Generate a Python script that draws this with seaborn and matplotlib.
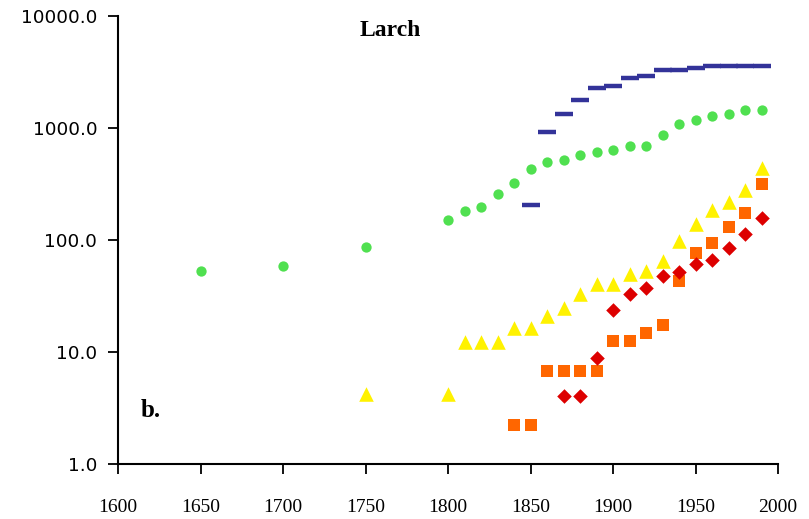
import numpy as np
import pandas as pd
import matplotlib
matplotlib.use("Agg")
import matplotlib.pyplot as plt
import seaborn as sns
from matplotlib.ticker import FixedLocator, FormatStrFormatter, NullLocator

# Data (log scale values)
years_dash = [1850, 1860, 1870, 1880, 1890, 1900, 1910, 1920, 1930, 1940, 1950, 1960, 1970, 1980, 1990]
vals_dash = [205, 921, 1334, 1778, 2276, 2371, 2795, 2914, 3295, 3295, 3435, 3580, 3580, 3580, 3580]

years_circ = [1650, 1700, 1750, 1800, 1810, 1820, 1830, 1840, 1850, 1860, 1870, 1880, 1890,
              1900, 1910, 1920, 1930, 1940, 1950, 1960, 1970, 1980, 1990]
vals_circ = [53, 59, 87, 151, 181, 197, 257, 323, 430, 497, 518, 574, 611,
             636, 691, 691, 866, 1086, 1177, 1279, 1334, 1446, 1446]

years_tri = [1750, 1800, 1810, 1820, 1830, 1840, 1850, 1860, 1870, 1880, 1890, 1900, 1910,
             1920, 1930, 1940, 1950, 1960, 1970, 1980, 1990]
vals_tri = [4.2, 4.2, 12.3, 12.3, 12.3, 16.4, 16.4, 21, 24.7, 33, 40.5, 40.5, 49.7,
            52.9, 64.9, 98, 139, 185, 218, 279, 439]

years_sq = [1840, 1850, 1860, 1870, 1880, 1890, 1900, 1910, 1920, 1930, 1940, 1950, 1960, 1970, 1980, 1990]
vals_sq = [2.23, 2.23, 6.77, 6.77, 6.77, 6.77, 12.5, 12.5, 14.8, 17.4, 43, 76.5, 94, 131, 174, 316]

years_dia = [1870, 1880, 1890, 1900, 1910, 1920, 1930, 1940, 1950, 1960, 1970, 1980, 1990]
vals_dia = [4.05, 4.05, 8.84, 23.7, 33, 37.3, 47.7, 51.8, 61, 66.3, 84.8, 113, 157]

x_ticks = [1600, 1650, 1700, 1750, 1800, 1850, 1900, 1950, 2000]
y_ticks = [1, 10, 100, 1000, 10000]

sns.set_style("white")
plt.rcParams['font.family'] = ['Liberation Serif', 'DejaVu Serif']
plt.rcParams['text.color'] = 'black'

fig = plt.figure(figsize=(8.09, 5.19), dpi=100)
ax = fig.add_axes([0.1459, 0.106, 0.8158, 0.863])

sns.scatterplot(x=years_dash, y=vals_dash, marker="_", s=170, linewidth=3.2,
                color="#333399", ax=ax)
sns.scatterplot(x=years_circ, y=vals_circ, marker="o", s=55, linewidth=0,
                color="#50E050", ax=ax)
sns.scatterplot(x=years_tri, y=vals_tri, marker="^", s=110, linewidth=0,
                color="#FFF200", ax=ax)
sns.scatterplot(x=years_sq, y=vals_sq, marker="s", s=80, linewidth=0,
                color="#FF6600", ax=ax)
sns.scatterplot(x=years_dia, y=vals_dia, marker="D", s=55, linewidth=0,
                color="#DD0000", ax=ax)

ax.set_yscale("log")
ax.set_xlim(1600, 2000)
ax.set_ylim(1, 10000)
ax.xaxis.set_major_locator(FixedLocator(x_ticks))
ax.yaxis.set_major_locator(FixedLocator(y_ticks))
ax.yaxis.set_minor_locator(NullLocator())
ax.yaxis.set_major_formatter(FormatStrFormatter("%.1f"))

for side in ["top", "right"]:
    ax.spines[side].set_visible(False)
for side in ["left", "bottom"]:
    ax.spines[side].set_color("black")
    ax.spines[side].set_linewidth(1.5)

ax.tick_params(axis="x", direction="out", length=7, width=1.3, pad=18,
               labelsize=14, colors="black", bottom=True)
ax.tick_params(axis="y", direction="out", length=7, width=1.3, pad=8,
               labelsize=13.3, colors="black", left=True)
for lab in ax.get_yticklabels():
    lab.set_family("DejaVu Sans")

ax.text((390 - 118) / 660, (464 - 36) / 448, "Larch", transform=ax.transAxes,
        ha="center", va="baseline", fontsize=17, fontweight="bold", color="black")
ax.text((141 - 118) / 660, (464 - 417) / 448, "b.", transform=ax.transAxes,
        ha="left", va="baseline", fontsize=18, fontweight="bold", color="black")

ax.set_xlabel("")
ax.set_ylabel("")

fig.savefig("out.png", dpi=100)
